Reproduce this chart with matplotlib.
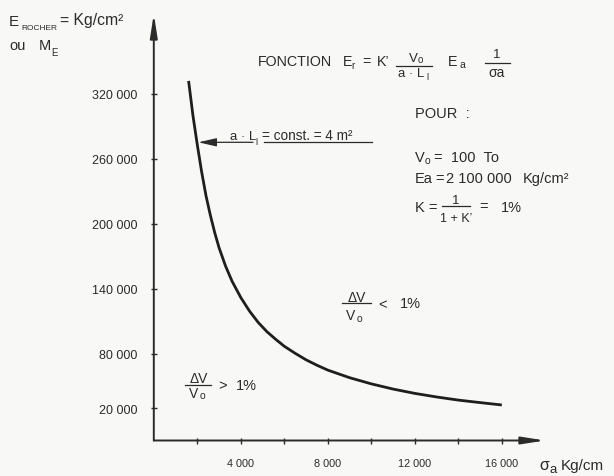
import matplotlib
matplotlib.use("Agg")
import matplotlib.pyplot as plt
from matplotlib.lines import Line2D
from matplotlib.patches import FancyArrowPatch

plt.rcParams['font.family'] = ['Liberation Sans', 'DejaVu Sans']

# ---- data ----
sigma_a = [1600, 1800, 2000, 2200, 2400, 2600, 2800, 3000, 3300, 3600,
           4000, 4400, 4800, 5200, 5600, 6000, 6500, 7000, 7500, 8000,
           9000, 10000, 11000, 12000, 13000, 14000, 15000, 16000]
E_rocher = [332000, 300000, 273000, 248000, 226000, 208000, 192000, 178000,
            161000, 147000, 132000, 119500, 109000, 100500, 93500, 87000,
            80500, 74500, 69500, 65000, 58000, 52300, 47500, 43500, 40200,
            37300, 35000, 32800]

x_ticks = [2000, 4000, 6000, 8000, 10000, 12000, 14000, 16000]
x_tick_labels = ['', '4 000', '', '8 000', '', '12 000', '', '16 000']
# the lowest tick is drawn (in the original) a little above its nominal place
y_tick_pos = [30000, 80000, 140000, 200000, 260000, 320000]
y_tick_labels = ['20 000', '80 000', '140 000', '200 000', '260 000', '320 000']

W, H = 614, 477
ink = '#2b2b2b'
bg = '#f8f8f6'

fig = plt.figure(figsize=(W / 100, H / 100), dpi=100, facecolor=bg)
x0, y0 = 153.8, 441.5
xr, yt = 545, 15
ax = fig.add_axes([x0 / W, (H - y0) / H, (xr - x0) / W, (y0 - yt) / H])
ax.set_facecolor(bg)
ax.set_xlim(0, 17986)
ax.set_ylim(0, 393800)
for s in ax.spines.values():
    s.set_visible(False)

ax.plot(sigma_a, E_rocher, color='#1e1e1e', lw=2.0, solid_capstyle='butt',
        solid_joinstyle='round')

ax.set_xticks(x_ticks)
ax.set_xticklabels(x_tick_labels)
ax.set_yticks(y_tick_pos)
ax.set_yticklabels(y_tick_labels)
ax.tick_params(direction='inout', length=5, width=1.0, colors=ink)
ax.tick_params(axis='x', pad=10, labelsize=7.8)
ax.tick_params(axis='y', pad=9, labelsize=9)

arrow_kw = dict(arrowstyle='-|>,head_length=1.4,head_width=0.22', lw=1.4,
                color=ink, mutation_scale=10, shrinkA=0, shrinkB=0)
ax.annotate('', xy=(17986, 0), xytext=(0, 0), arrowprops=arrow_kw,
            annotation_clip=False)
ax.annotate('', xy=(0, 393800), xytext=(0, 0), arrowprops=arrow_kw,
            annotation_clip=False)


def T(x, y, s, size=9.5, ha='left'):
    fig.text(x / W, 1 - y / H, s, fontsize=size, ha=ha, va='baseline',
             color=ink)


def L(x1, x2, y, lw=0.9):
    fig.add_artist(Line2D([x1 / W, x2 / W], [1 - y / H, 1 - y / H],
                          transform=fig.transFigure, color=ink, lw=lw))


# y-axis title
T(9, 25.5, 'E', 11)
T(21.5, 29.5, 'ROCHER', 6)
T(60, 25.5, '= Kg/cm²', 11.3)
T(9, 50, 'ou', 10.5)
T(38.5, 50, 'M', 10.5)
T(51.5, 55.5, 'E', 7)

# x-axis title
T(539, 470, 'σ', 11.5)
T(549, 473, 'a', 9.5)
T(561, 470, 'Kg/cm', 11)

# formula line
T(258.3, 66, 'FONCTION', 10.3)
T(343, 66, 'E', 10.3)
T(351.5, 69, 'r', 7)
T(362, 66, '=', 10.3)
T(377, 66, 'K’', 10.3)
T(413, 62, 'V', 9.5, ha='center')
T(417.5, 63.5, 'o', 7)
L(396, 432, 66.7)
T(398, 77, 'a · L', 9.5)
T(426, 80, 'l', 6.5)
T(448, 66, 'E', 10.3)
T(459.5, 68.5, 'a', 7.5)
T(497, 58, '1', 9.5, ha='center')
L(485, 510, 63.5)
T(497, 77, 'σa', 10, ha='center')

# parameter block
T(415, 118, 'POUR  :', 10.5)
T(415, 162, 'V', 10.5)
T(425, 164, 'o', 7.5)
T(434, 162, '=  100  To', 10.5)
T(415, 183, 'Ea', 10.5)
T(435, 183, '=', 10.5)
T(446, 183, '2 100 000', 10.5)
T(523, 183, 'Kg/cm²', 10.5)
T(415, 211.5, 'K =', 10.5)
T(456, 204.5, '1', 9.5, ha='center')
L(442, 470, 207)
T(456, 222, '1 + K’', 9, ha='center')
T(479, 211.5, '=', 10.5)
T(501, 211.5, '1%', 10.5)

# annotation of the curve
T(230, 139.5, 'a · L', 9.5)
T(255.5, 145, 'l', 6.5)
T(262, 139.5, '= const. = 4 m²', 9.8)
fig.add_artist(FancyArrowPatch(
    (253 / W, 1 - 143.3 / H), (198.3 / W, 1 - 143.3 / H),
    transform=fig.transFigure,
    arrowstyle='-|>,head_length=1.1,head_width=0.25', mutation_scale=10,
    lw=0.9, color=ink, shrinkA=0, shrinkB=0))
L(264, 372, 143.3)

# region labels
T(357, 301.7, 'ΔV', 10, ha='center')
L(341.7, 370.7, 303.5)
T(351, 320, 'V', 10, ha='center')
T(356.5, 321.5, 'o', 7.5)
T(378, 309, '<', 10.5)
T(400, 308.5, '1%', 10.5)

T(199, 383, 'ΔV', 10, ha='center')
L(185, 210.7, 385.7)
T(194, 398, 'V', 10, ha='center')
T(199.5, 399.5, 'o', 7.5)
T(218, 390, '>', 10.5)
T(236, 390, '1%', 10.5)

fig.savefig('out.png', dpi=100, facecolor=bg)
